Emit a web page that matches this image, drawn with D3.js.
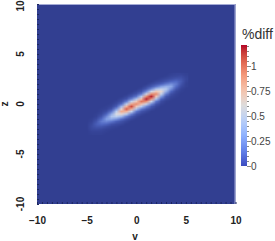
<!DOCTYPE html>
<html>
<head>
<meta charset="utf-8">
<script src="https://cdn.jsdelivr.net/npm/d3@7"></script>
<style>
  body { margin: 0; background: #fff; }
  svg { display: block; font-family: "Liberation Sans", Arial, sans-serif; }
</style>
</head>
<body>
<div id="chart"></div>
<script>
// grid of %diff values (rows: z from 3 down to -3, cols: v from -5 to 5)
const vGrid = [-5, -4.5, -4, -3.5, -3, -2.5, -2, -1.5, -1, -0.5, 0, 0.5, 1, 1.5, 2, 2.5, 3, 3.5, 4, 4.5, 5];
const zGrid = [3, 2.75, 2.5, 2.25, 2, 1.75, 1.5, 1.25, 1, 0.75, 0.5, 0.25, 0, -0.25, -0.5, -0.75, -1, -1.25, -1.5, -1.75, -2, -2.25, -2.5, -2.75, -3];
const diff = [
  [0,0,0,0,0,0,0,0,0,0,0,0,0,0,0,0,0,.01,.02,.02,.01],
  [0,0,0,0,0,0,0,0,0,0,0,0,0,0,0,0,.01,.03,.04,.05,.02],
  [0,0,0,0,0,0,0,0,0,0,0,0,0,0,0,.02,.04,.06,.09,.08,.03],
  [0,0,0,0,0,0,0,0,0,0,0,0,0,0,.03,.05,.09,.14,.16,.1,.02],
  [0,0,0,0,0,0,0,0,0,0,0,0,0,.04,.08,.13,.2,.25,.2,.08,.01],
  [0,0,0,0,0,0,0,0,0,0,0,0,.04,.1,.19,.29,.35,.32,.16,.05,.01],
  [0,0,0,0,0,0,0,0,0,0,0,.03,.1,.24,.43,.51,.45,.25,.09,.02,0],
  [0,0,0,0,0,0,0,0,0,0,.03,.08,.24,.54,.74,.65,.35,.14,.04,.01,0],
  [0,0,0,0,0,0,0,0,0,.03,.08,.2,.54,.94,.95,.51,.2,.06,.02,0,0],
  [0,0,0,0,0,0,0,0,.03,.09,.19,.45,.94,1.2,.74,.29,.09,.03,.01,0,0],
  [0,0,0,0,0,0,0,.03,.08,.22,.43,.78,1.2,.94,.43,.13,.04,.01,0,0,0],
  [0,0,0,0,0,0,.02,.07,.21,.5,.74,1.0,.94,.54,.19,.05,.01,0,0,0,0],
  [0,0,0,0,0,.01,.05,.17,.47,.86,.95,.78,.54,.24,.08,.02,0,0,0,0,0],
  [0,0,0,0,.01,.03,.12,.38,.82,1.1,.74,.45,.24,.1,.03,0,0,0,0,0,0],
  [0,0,0,.01,.02,.08,.27,.66,1.05,.86,.43,.2,.1,.04,0,0,0,0,0,0,0],
  [0,0,0,.02,.06,.19,.47,.85,.82,.5,.19,.08,.04,0,0,0,0,0,0,0,0],
  [0,0,.01,.04,.14,.33,.6,.66,.47,.22,.08,.03,0,0,0,0,0,0,0,0,0],
  [0,0,.02,.09,.23,.42,.47,.38,.21,.09,.03,0,0,0,0,0,0,0,0,0,0],
  [0,.01,.05,.16,.3,.33,.27,.17,.08,.03,0,0,0,0,0,0,0,0,0,0,0],
  [0,.02,.09,.2,.23,.19,.12,.07,.03,0,0,0,0,0,0,0,0,0,0,0,0],
  [0,.04,.12,.16,.14,.08,.05,.03,0,0,0,0,0,0,0,0,0,0,0,0,0],
  [0,.05,.09,.09,.06,.03,.02,0,0,0,0,0,0,0,0,0,0,0,0,0,0],
  [0,.04,.05,.04,.02,.01,0,0,0,0,0,0,0,0,0,0,0,0,0,0,0],
  [0,.02,.02,.02,.01,0,0,0,0,0,0,0,0,0,0,0,0,0,0,0,0],
  [0,.01,.01,.01,0,0,0,0,0,0,0,0,0,0,0,0,0,0,0,0,0]
];
const xTicks = [-10, -5, 0, 5, 10];
const yTicks = [-10, -5, 0, 5, 10];
const barTicks = [0, 0.25, 0.5, 0.75, 1];
const barMax = 1.21;

const width = 275, height = 241;
const plot = { left: 37, right: 235.5, top: 4, bottom: 204 };

const x = d3.scaleLinear().domain([-10, 10]).range([plot.left, plot.right]);
const y = d3.scaleLinear().domain([-10, 10]).range([plot.bottom, plot.top]);

// cool-to-warm map; the plot is a bit darker at the blue end (lit 3D view)
const stops = [0, .125, .25, .375, .5, .625, .75, .875, 1].map(t => t * barMax);
const barColor = d3.scaleLinear().domain(stops)
  .range(["#3b4cc0", "#6282ea", "#8db0fe", "#b8d0f9", "#dddcdc", "#f5c4ad", "#f49a7b", "#dd604c", "#b40426"])
  .interpolate(d3.interpolateLab).clamp(true);
const plotColor = d3.scaleLinear().domain(stops)
  .range(["#323f91", "#5068c4", "#86a3e6", "#b6cbef", "#dcdde2", "#f2c4b0", "#ec9c7e", "#d65c4a", "#b0162a"])
  .interpolate(d3.interpolateLab).clamp(true);

const svg = d3.select("#chart").append("svg")
  .attr("width", width)
  .attr("height", height);

// plot background = value 0
svg.append("rect")
  .attr("x", plot.left).attr("y", plot.top)
  .attr("width", plot.right - plot.left).attr("height", plot.bottom - plot.top)
  .attr("fill", plotColor(0));

// heat field: one pixel per grid cell, smoothed when scaled
const cv = document.createElement("canvas");
cv.width = vGrid.length;
cv.height = zGrid.length;
const ctx = cv.getContext("2d");
const img = ctx.createImageData(cv.width, cv.height);
diff.forEach((row, j) => {
  row.forEach((val, i) => {
    const c = d3.rgb(plotColor(val));
    const k = (j * cv.width + i) * 4;
    img.data[k] = c.r; img.data[k + 1] = c.g; img.data[k + 2] = c.b; img.data[k + 3] = 255;
  });
});
ctx.putImageData(img, 0, 0);

const dv = (vGrid[1] - vGrid[0]) / 2, dz = (zGrid[0] - zGrid[1]) / 2;
svg.append("image")
  .attr("href", cv.toDataURL())
  .attr("preserveAspectRatio", "none")
  .attr("x", x(vGrid[0] - dv))
  .attr("y", y(zGrid[0] + dz))
  .attr("width", x(vGrid[vGrid.length - 1] + dv) - x(vGrid[0] - dv))
  .attr("height", y(zGrid[zGrid.length - 1] - dz) - y(zGrid[0] + dz));

// light edge on top and right
svg.append("path")
  .attr("d", `M${plot.left},${plot.top + 0.5}H${plot.right - 0.5}V${plot.bottom}`)
  .attr("fill", "none")
  .attr("stroke", "#a4abd6")
  .attr("stroke-width", 1);

// small inward ticks
svg.append("g")
  .attr("transform", `translate(0,${plot.bottom})`)
  .call(d3.axisBottom(x).ticks(40).tickSize(-2).tickFormat(""))
  .call(g => g.select(".domain").remove())
  .call(g => g.selectAll("line").attr("stroke", "#1c275e"));

svg.append("g")
  .attr("transform", `translate(${plot.left},0)`)
  .call(d3.axisLeft(y).ticks(40).tickSize(-2).tickFormat(""))
  .call(g => g.select(".domain").remove())
  .call(g => g.selectAll("line").attr("stroke", "#1c275e"));

// x tick labels
svg.append("g")
  .attr("transform", `translate(0,${plot.bottom})`)
  .call(d3.axisBottom(x).tickValues(xTicks).tickSize(0).tickPadding(13))
  .call(g => g.select(".domain").remove())
  .call(g => g.selectAll("text")
    .attr("fill", "#222")
    .style("font-size", "10px")
    .style("font-weight", "bold")
    .style("font-family", "'Liberation Sans', Arial, sans-serif"));

// y tick labels (rotated); the top one is nudged in so it stays on the page
svg.append("g").selectAll("text")
  .data(yTicks)
  .join("text")
    .attr("transform", d => `translate(20,${Math.max(y(d), 6)}) rotate(-90)`)
    .attr("text-anchor", "middle")
    .attr("dy", "0.35em")
    .attr("fill", "#222")
    .style("font-size", "10px")
    .style("font-weight", "bold")
    .text(d => d);

// axis titles
svg.append("text")
  .attr("x", 135).attr("y", 240)
  .attr("text-anchor", "middle")
  .attr("fill", "#222")
  .style("font-size", "10px")
  .style("font-weight", "bold")
  .text("v");

svg.append("text")
  .attr("transform", `translate(4,${y(0)}) rotate(-90)`)
  .attr("text-anchor", "middle")
  .attr("dy", "0.35em")
  .attr("fill", "#222")
  .style("font-size", "10px")
  .style("font-weight", "bold")
  .text("z");

// colour bar
const bar = { x: 241, w: 6, top: 45, bottom: 166 };
const cb = d3.scaleLinear().domain([0, barMax]).range([bar.bottom, bar.top]);

const grad = svg.append("defs").append("linearGradient")
  .attr("id", "cbar")
  .attr("x1", 0).attr("y1", 1).attr("x2", 0).attr("y2", 0);
grad.selectAll("stop")
  .data(d3.range(0, 1.0001, 0.05))
  .join("stop")
    .attr("offset", d => d)
    .attr("stop-color", d => barColor(d * barMax));

svg.append("rect")
  .attr("x", bar.x).attr("y", bar.top)
  .attr("width", bar.w).attr("height", bar.bottom - bar.top)
  .attr("fill", "url(#cbar)");

svg.append("g")
  .attr("transform", `translate(${bar.x + bar.w},0)`)
  .call(d3.axisRight(cb).ticks(24).tickSize(2).tickFormat(""))
  .call(g => g.select(".domain").remove())
  .call(g => g.selectAll("line").attr("stroke", "#888"));

svg.append("g")
  .attr("transform", `translate(${bar.x + bar.w},0)`)
  .call(d3.axisRight(cb).tickValues(barTicks).tickSize(4).tickPadding(0).tickFormat(d => d))
  .call(g => g.select(".domain").remove())
  .call(g => g.selectAll("line").attr("stroke", "#888"))
  .call(g => g.selectAll("text")
    .attr("fill", "#444")
    .style("font-size", "10px")
    .style("font-family", "'Liberation Sans', Arial, sans-serif"));

svg.append("text")
  .attr("x", 242).attr("y", 39)
  .attr("fill", "#333")
  .style("font-size", "14px")
  .text("%diff");
</script>
</body>
</html>
